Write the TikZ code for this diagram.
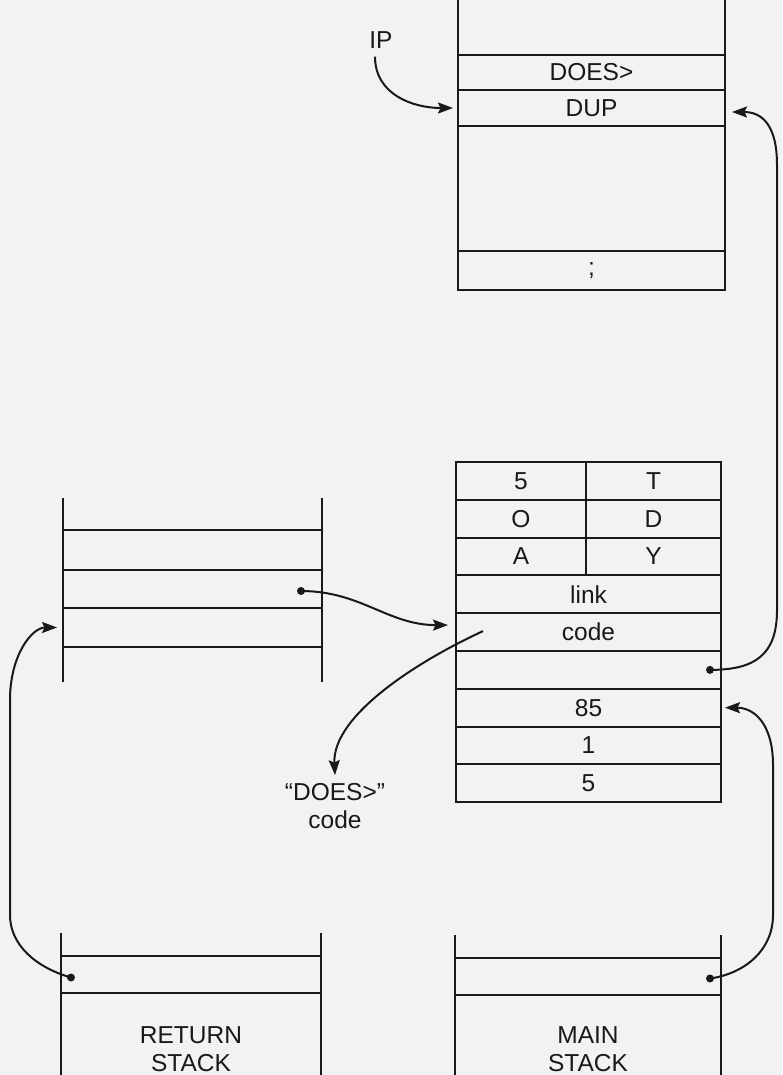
\documentclass[tikz,border=0pt]{standalone}
\usepackage{fontspec}
\setmainfont{Liberation Sans}
\usetikzlibrary{arrows.meta}
\definecolor{paper}{RGB}{242,242,242}
\definecolor{ink}{RGB}{25,25,25}
\newcommand{\diagfont}{\fontsize{24.5}{28}\selectfont}
\begin{document}
\begin{tikzpicture}[x=1pt,y=-1pt,
  every node/.style={font=\diagfont, text=ink},
  lw/.style={line width=2pt, draw=ink},
  cell/.style={draw=ink, line width=2pt, inner sep=0pt, outer sep=0pt, anchor=north west},
  arr/.style={lw, -{Stealth[length=15pt,width=11pt,inset=2.5pt]}},
  dotnode/.style={circle, fill=ink, inner sep=0pt, minimum size=8pt},
  lbl/.style={inner sep=2pt, align=center}]
\fill[paper] (0,0) rectangle (782,1075);
\useasboundingbox (0,0) rectangle (782,1075);

% ---- top word body
\node[cell, minimum width=267pt, minimum height=35pt] (does) at (458,55) {DOES>};
\node[cell, minimum width=267pt, minimum height=36pt] (dup) at (does.south west) {DUP};
\node[cell, minimum width=267pt, minimum height=125pt] (tmid) at (dup.south west) {};
\node[cell, minimum width=267pt, minimum height=39pt] (semi) at (tmid.south west) {;};
\draw[lw] (does.north west) -- ++(0,-56);
\draw[lw] (does.north east) -- ++(0,-56);
\node[lbl] (ip) at (381,40) {IP};

% ---- middle: the defined word
\node[cell, minimum width=130pt, minimum height=37.8pt] (a1) at (456,462) {5};
\node[cell, minimum width=135pt, minimum height=37.8pt] (b1) at (a1.north east) {T};
\node[cell, minimum width=130pt, minimum height=37.8pt] (a2) at (a1.south west) {O};
\node[cell, minimum width=135pt, minimum height=37.8pt] (b2) at (a2.north east) {D};
\node[cell, minimum width=130pt, minimum height=37.8pt] (a3) at (a2.south west) {A};
\node[cell, minimum width=135pt, minimum height=37.8pt] (b3) at (a3.north east) {Y};
\node[cell, minimum width=265pt, minimum height=37.8pt] (link) at (a3.south west) {link};
\node[cell, minimum width=265pt, minimum height=37.8pt] (code) at (link.south west) {code};
\node[cell, minimum width=265pt, minimum height=37.8pt] (ptr) at (code.south west) {};
\node[cell, minimum width=265pt, minimum height=37.8pt] (r85) at (ptr.south west) {85};
\node[cell, minimum width=265pt, minimum height=37.8pt] (rone) at (r85.south west) {1};
\node[cell, minimum width=265pt, minimum height=37.8pt] (rfive) at (rone.south west) {5};
\node[dotnode] (pdot) at ([xshift=-11pt]ptr.east) {};

% ---- left stack
\node[cell, minimum width=259pt, minimum height=40pt] (l1) at (63,530) {};
\node[cell, minimum width=259pt, minimum height=38pt] (l2) at (l1.south west) {};
\node[cell, minimum width=259pt, minimum height=39pt] (l3) at (l2.south west) {};
\draw[lw] (l1.north west) -- ++(0,-32);
\draw[lw] (l1.north east) -- ++(0,-32);
\draw[lw] (l3.south west) -- ++(0,35);
\draw[lw] (l3.south east) -- ++(0,35);
\node[dotnode] (ldot) at ([xshift=-21pt,yshift=-2pt]l2.east) {};

\node[lbl] (dl) at (335,806) {“DOES>”\\code};

% ---- bottom stacks
\node[cell, minimum width=260pt, minimum height=37pt] (rs) at (61,956) {};
\draw[lw] (rs.north west) -- ++(0,-23);
\draw[lw] (rs.north east) -- ++(0,-23);
\draw[lw] (rs.south west) -- ++(0,90);
\draw[lw] (rs.south east) -- ++(0,90);
\node[dotnode] (rdot) at ([xshift=10pt,yshift=-3pt]rs.west) {};
\node[lbl] (rlab) at (191,1049) {RETURN\\STACK};

\node[cell, minimum width=266pt, minimum height=37pt] (ms) at (455,958) {};
\draw[lw] (ms.north west) -- ++(0,-23);
\draw[lw] (ms.north east) -- ++(0,-23);
\draw[lw] (ms.south west) -- ++(0,90);
\draw[lw] (ms.south east) -- ++(0,90);
\node[dotnode] (mdot) at ([xshift=-11pt,yshift=-2pt]ms.east) {};
\node[lbl] (mlab) at (588,1049) {MAIN\\STACK};

% ---- connectors
\draw[arr] ([xshift=-6pt,yshift=-6pt]ip.south) .. controls +(0,38) and +(-40,0) .. ([xshift=-5pt]dup.west);
\draw[arr] (pdot.center) .. controls +(45,0) and +(0,45) .. (777,610) -- (777,165)
   .. controls +(0,-40) and +(30,0) .. ([xshift=7pt,yshift=-4pt]dup.east);
\draw[arr] (ldot.center) .. controls +(60,0) and +(-60,0) .. ([xshift=-8pt,yshift=7pt]code.west);
\draw[arr] ([xshift=27pt,yshift=1pt]code.west) .. controls (420,660) and (332,715) .. ([yshift=6pt]dl.north);
\draw[arr] (rdot.center) .. controls +(-35,-10) and +(0,30) .. (10,915) -- (10,700)
   .. controls +(0,-45) and +(-25,0) .. ([xshift=-6pt]l3.west);
\draw[arr] (mdot.center) .. controls +(35,-5) and +(0,35) .. (773,915) -- (773,765)
   .. controls +(0,-40) and +(30,0) .. ([xshift=4pt]r85.east);
\end{tikzpicture}
\end{document}
